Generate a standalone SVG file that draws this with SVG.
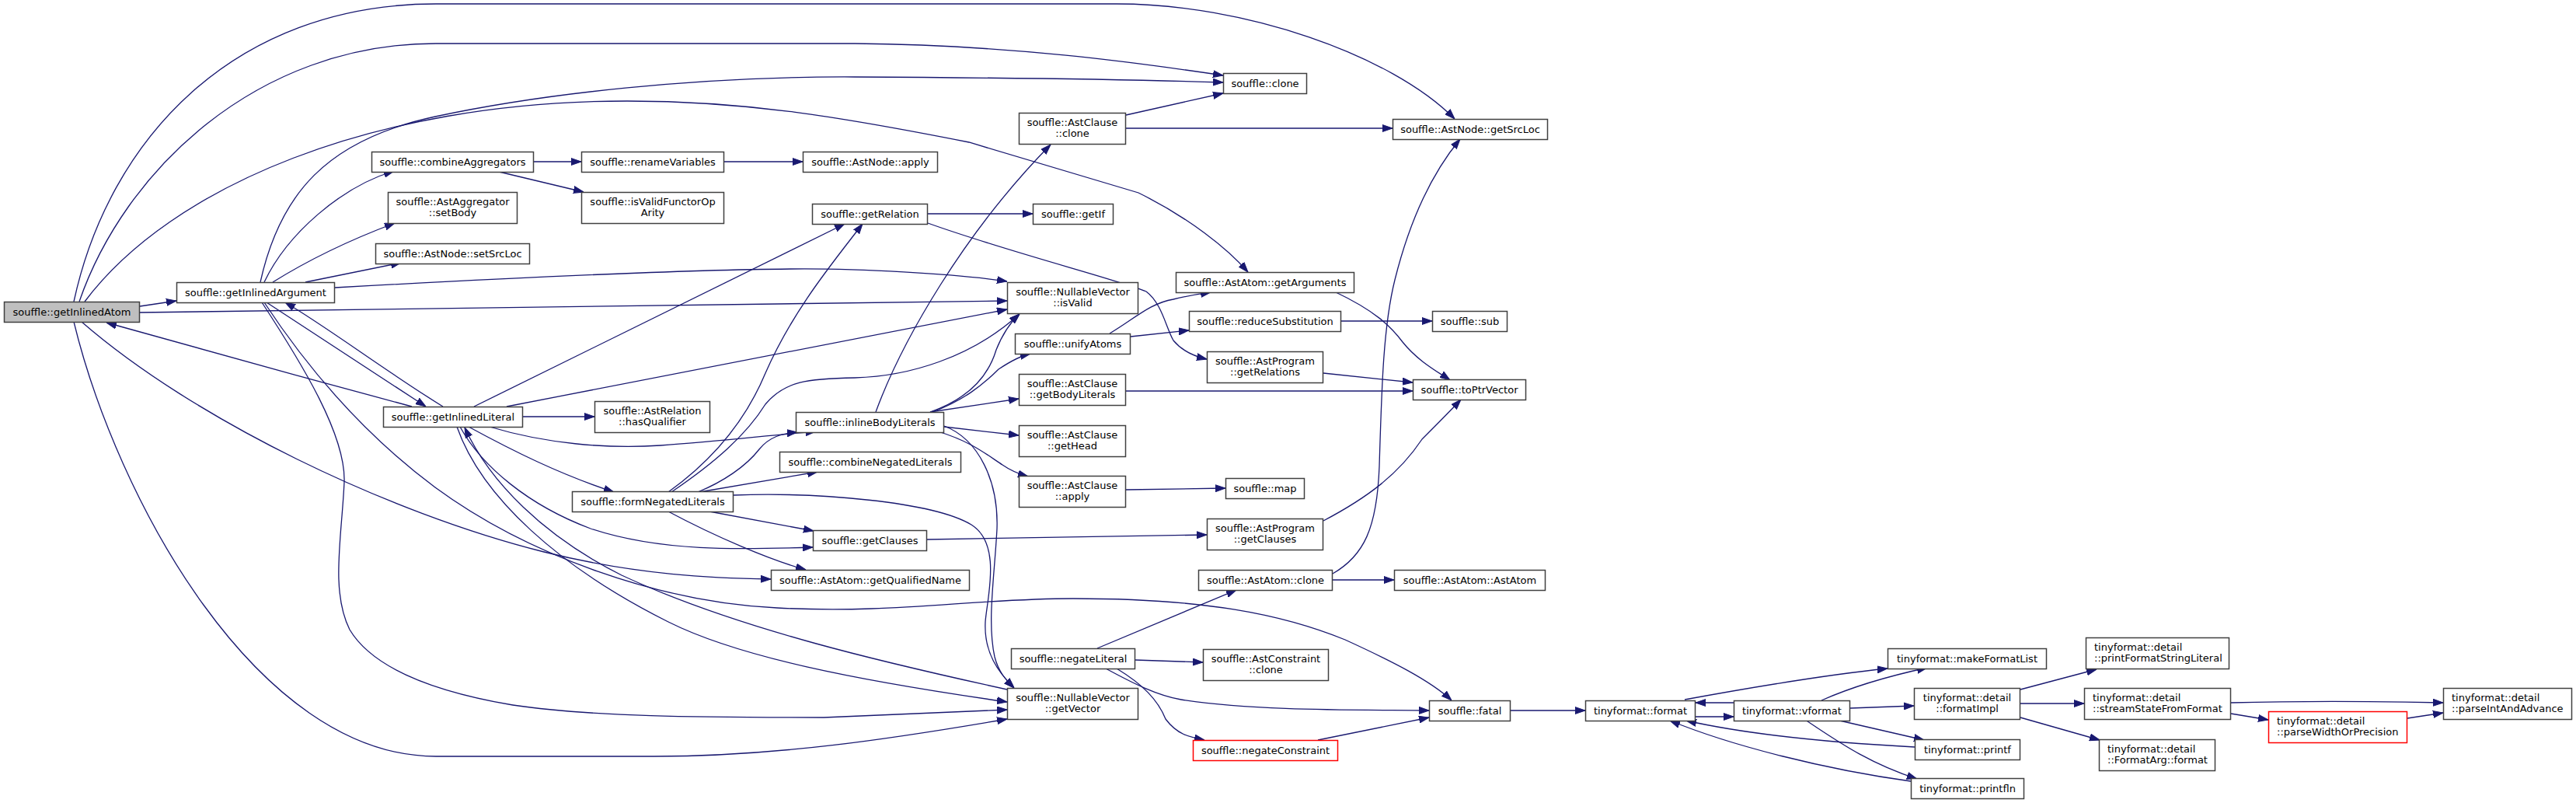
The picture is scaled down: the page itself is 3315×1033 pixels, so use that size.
<svg xmlns="http://www.w3.org/2000/svg" width="3315" height="1033" viewBox="0 0 3315 1033">
<defs>
<marker id="ah" viewBox="0 0 13 10" refX="13" refY="5" markerWidth="13" markerHeight="10" markerUnits="userSpaceOnUse" orient="auto">
<path d="M0,0.5 L13,5 L0,9.5 z" fill="#191970" stroke="#191970" stroke-width="1"/>
</marker>
<style>
.n rect{fill:#ffffff;stroke:#404040;stroke-width:1.5}
.n.root rect{fill:#bfbfbf}
.n.red rect{stroke:#ff0000}
.n text{font-family:"DejaVu Sans","Noto Sans",sans-serif;font-size:13px;fill:#000000;text-anchor:middle}
.n text.l{text-anchor:start}
.e path{fill:none;stroke:#191970;stroke-width:1.3;marker-end:url(#ah)}
</style>
</defs>
<rect x="0" y="0" width="3315" height="1033" fill="#ffffff"/>
<g id="edges" class="e">
<path d="M180,394 L227,387"/>
<path d="M95,388 C140,180 300,5 561,5 L1437,5 C1600,5 1790,70 1872,153"/>
<path d="M102,388 C160,220 330,56 561,56 L1100,56 C1300,58 1460,80 1574,97"/>
<path d="M109,388 C220,240 480,130 807,130 C960,130 1080,150 1247,183 L1465,248 C1530,280 1580,320 1606,350"/>
<path d="M180,402 L1296,387"/>
<path d="M95,414 C150,640 330,973 561,973 L842,973 C1000,973 1150,950 1296,925"/>
<path d="M105,414 C250,540 500,660 700,710 C820,740 920,744 992,745"/>
<path d="M530,523 C400,488 260,450 137,415"/>
<path d="M340,363 C370,300 440,240 507,220"/>
<path d="M351,363 Q420,320 508,287"/>
<path d="M393,363 L516,338"/>
<path d="M335,363 C360,250 420,180 560,150 C700,120 900,98 1100,99 C1300,100 1450,102 1574,106"/>
<path d="M431,370 C700,355 900,347 1017,346 C1100,345 1230,352 1296,362"/>
<path d="M337,389 C390,470 445,560 443,620 C440,690 425,760 450,810 C480,860 560,890 660,907 C760,922 900,923 1060,923 L1296,913"/>
<path d="M340,389 C400,480 470,560 560,627 C680,715 850,775 1000,782 C1150,790 1250,770 1381,770 C1550,770 1650,790 1731,823 C1790,850 1840,875 1868,901"/>
<path d="M343,389 L548,523"/>
<path d="M570,523 C500,480 420,420 367,389"/>
<path d="M673,536 L765,536"/>
<path d="M610,523 L1087,288"/>
<path d="M652,523 L1296,398"/>
<path d="M630,549 C700,570 780,578 850,573 C920,568 990,560 1050,555"/>
<path d="M603,549 C660,580 720,610 790,633"/>
<path d="M592,549 C620,600 680,650 760,680 C850,710 950,707 1046,704"/>
<path d="M588,549 C620,640 720,730 860,800 C950,845 1100,875 1296,903"/>
<path d="M1296,887 C1150,855 950,810 800,740 C700,690 630,620 598,550"/>
<path d="M860,633 C920,590 960,540 985,480 C1020,400 1070,340 1110,288"/>
<path d="M864,633 C920,595 960,560 985,520 C1010,490 1040,487 1100,486 C1170,484 1250,460 1312,404"/>
<path d="M898,633 C930,620 960,600 977,578 C990,562 1005,558 1026,556"/>
<path d="M900,633 L1052,607"/>
<path d="M944,637 C1050,633 1200,645 1250,675 C1290,700 1270,770 1268,800 C1266,840 1285,865 1305,885"/>
<path d="M913,658 L1047,683"/>
<path d="M860,658 C920,690 990,720 1037,733"/>
<path d="M1127,530 C1160,440 1240,300 1352,186"/>
<path d="M1197,530 C1240,515 1270,490 1282,450 C1290,430 1300,415 1312,404"/>
<path d="M1200,530 C1240,515 1265,495 1285,475 C1300,465 1312,458 1326,455"/>
<path d="M1197,530 L1311,513"/>
<path d="M1215,549 L1311,560"/>
<path d="M1207,555 C1250,568 1270,585 1290,598 C1300,605 1312,610 1323,613"/>
<path d="M1215,548 C1260,565 1285,620 1283,680 C1280,740 1270,800 1280,845 C1285,865 1295,875 1305,885"/>
<path d="M1194,275 L1329,275"/>
<path d="M1194,287 C1300,325 1440,360 1475,375 C1495,390 1500,420 1510,438 C1520,450 1535,458 1553,462"/>
<path d="M1449,148 L1574,120"/>
<path d="M1449,165 L1792,165"/>
<path d="M1717,375 C1770,400 1790,420 1805,440 C1825,465 1850,478 1866,489"/>
<path d="M1428,429 C1460,410 1480,390 1510,385 C1530,380 1545,378 1558,376"/>
<path d="M1455,433 L1530,425"/>
<path d="M1726,413 L1843,413"/>
<path d="M1703,480 L1818,492"/>
<path d="M1449,503 L1818,503"/>
<path d="M1703,670 C1760,640 1800,610 1830,565 C1850,545 1865,530 1880,514"/>
<path d="M1449,630 L1577,628"/>
<path d="M1193,694 L1553,688"/>
<path d="M1715,746 L1794,746"/>
<path d="M1715,738 C1755,715 1772,680 1775,600 C1778,500 1780,420 1795,360 C1815,280 1845,220 1879,179"/>
<path d="M1412,834 L1591,759"/>
<path d="M1461,849 L1548,852"/>
<path d="M1423,860 C1460,880 1490,895 1520,900 C1620,915 1740,913 1839,914"/>
<path d="M1437,860 C1470,880 1490,900 1500,925 C1515,945 1530,948 1550,952"/>
<path d="M1696,952 L1839,923"/>
<path d="M1944,914 L2040,914"/>
<path d="M687,208 L748,208"/>
<path d="M638,220 L751,247"/>
<path d="M932,208 L1033,208"/>
<path d="M2182,922 L2231,922"/>
<path d="M2231,904 L2182,904"/>
<path d="M2168,900 C2250,885 2350,868 2429,860"/>
<path d="M2344,901 C2380,885 2420,872 2480,859"/>
<path d="M2381,911 L2463,908"/>
<path d="M2363,926 L2476,952"/>
<path d="M2323,926 C2360,950 2400,980 2467,1002"/>
<path d="M2464,961 C2350,955 2250,945 2170,927"/>
<path d="M2459,1005 C2350,990 2230,960 2149,927"/>
<path d="M2600,887 L2698,861"/>
<path d="M2600,905 L2682,905"/>
<path d="M2600,923 L2702,952"/>
<path d="M2871,904 C2950,902 3050,902 3144,904"/>
<path d="M2871,918 L2919,926"/>
<path d="M3098,924 L3144,917"/>
</g>
<g id="n1" class="n root"><rect x="5.5" y="388.5" width="174" height="26"/><text x="92.5" y="405.5">souffle::getInlinedAtom</text></g>
<g id="n2" class="n"><rect x="227.5" y="363.5" width="203" height="26"/><text x="329" y="380.5">souffle::getInlinedArgument</text></g>
<g id="n3" class="n"><rect x="478.5" y="195.5" width="208" height="26"/><text x="582.5" y="212.5">souffle::combineAggregators</text></g>
<g id="n4" class="n"><rect x="748.5" y="195.5" width="183" height="26"/><text x="840" y="212.5">souffle::renameVariables</text></g>
<g id="n5" class="n"><rect x="1033.5" y="195.5" width="173" height="26"/><text x="1120" y="212.5">souffle::AstNode::apply</text></g>
<g id="n6" class="n"><rect x="499.5" y="247.5" width="166" height="40"/><text x="582.5" y="264">souffle::AstAggregator</text><text x="582.5" y="278">::setBody</text></g>
<g id="n7" class="n"><rect x="748.5" y="247.5" width="183" height="40"/><text x="840" y="264">souffle::isValidFunctorOp</text><text x="840" y="278">Arity</text></g>
<g id="n8" class="n"><rect x="483.5" y="313.5" width="198" height="26"/><text x="582.5" y="330.5">souffle::AstNode::setSrcLoc</text></g>
<g id="n9" class="n"><rect x="493.5" y="523.5" width="179" height="26"/><text x="583" y="540.5">souffle::getInlinedLiteral</text></g>
<g id="n10" class="n"><rect x="765.5" y="516.5" width="148" height="40"/><text x="839.5" y="533">souffle::AstRelation</text><text x="839.5" y="547">::hasQualifier</text></g>
<g id="n11" class="n"><rect x="736.5" y="632.5" width="207" height="26"/><text x="840" y="649.5">souffle::formNegatedLiterals</text></g>
<g id="n12" class="n"><rect x="1045.5" y="262.5" width="148" height="26"/><text x="1119.5" y="279.5">souffle::getRelation</text></g>
<g id="n13" class="n"><rect x="1329.5" y="262.5" width="103" height="26"/><text x="1381" y="279.5">souffle::getIf</text></g>
<g id="n14" class="n"><rect x="1574.5" y="94.5" width="107" height="26"/><text x="1628" y="111.5">souffle::clone</text></g>
<g id="n15" class="n"><rect x="1311.5" y="145.5" width="137" height="40"/><text x="1380" y="162">souffle::AstClause</text><text x="1380" y="176">::clone</text></g>
<g id="n16" class="n"><rect x="1792.5" y="153.5" width="199" height="26"/><text x="1892" y="170.5">souffle::AstNode::getSrcLoc</text></g>
<g id="n17" class="n"><rect x="1296.5" y="363.5" width="168" height="40"/><text x="1380.5" y="380">souffle::NullableVector</text><text x="1380.5" y="394">::isValid</text></g>
<g id="n18" class="n"><rect x="1513.5" y="350.5" width="229" height="26"/><text x="1628" y="367.5">souffle::AstAtom::getArguments</text></g>
<g id="n19" class="n"><rect x="1530.5" y="400.5" width="195" height="26"/><text x="1628" y="417.5">souffle::reduceSubstitution</text></g>
<g id="n20" class="n"><rect x="1843.5" y="400.5" width="96" height="26"/><text x="1891.5" y="417.5">souffle::sub</text></g>
<g id="n21" class="n"><rect x="1306.5" y="429.5" width="148" height="26"/><text x="1380.5" y="446.5">souffle::unifyAtoms</text></g>
<g id="n22" class="n"><rect x="1553.5" y="452.5" width="149" height="40"/><text x="1628" y="469">souffle::AstProgram</text><text x="1628" y="483">::getRelations</text></g>
<g id="n23" class="n"><rect x="1818.5" y="488.5" width="145" height="26"/><text x="1891" y="505.5">souffle::toPtrVector</text></g>
<g id="n24" class="n"><rect x="1311.5" y="481.5" width="137" height="40"/><text x="1380" y="498">souffle::AstClause</text><text x="1380" y="512">::getBodyLiterals</text></g>
<g id="n25" class="n"><rect x="1024.5" y="530.5" width="190" height="26"/><text x="1119.5" y="547.5">souffle::inlineBodyLiterals</text></g>
<g id="n26" class="n"><rect x="1311.5" y="547.5" width="137" height="40"/><text x="1380" y="564">souffle::AstClause</text><text x="1380" y="578">::getHead</text></g>
<g id="n27" class="n"><rect x="1003.5" y="581.5" width="233" height="26"/><text x="1120" y="598.5">souffle::combineNegatedLiterals</text></g>
<g id="n28" class="n"><rect x="1311.5" y="612.5" width="137" height="40"/><text x="1380" y="629">souffle::AstClause</text><text x="1380" y="643">::apply</text></g>
<g id="n29" class="n"><rect x="1577.5" y="615.5" width="101" height="26"/><text x="1628" y="632.5">souffle::map</text></g>
<g id="n30" class="n"><rect x="1553.5" y="667.5" width="149" height="40"/><text x="1628" y="684">souffle::AstProgram</text><text x="1628" y="698">::getClauses</text></g>
<g id="n31" class="n"><rect x="1046.5" y="682.5" width="146" height="26"/><text x="1119.5" y="699.5">souffle::getClauses</text></g>
<g id="n32" class="n"><rect x="992.5" y="733.5" width="255" height="26"/><text x="1120" y="750.5">souffle::AstAtom::getQualifiedName</text></g>
<g id="n33" class="n"><rect x="1542.5" y="733.5" width="172" height="26"/><text x="1628.5" y="750.5">souffle::AstAtom::clone</text></g>
<g id="n34" class="n"><rect x="1794.5" y="733.5" width="194" height="26"/><text x="1891.5" y="750.5">souffle::AstAtom::AstAtom</text></g>
<g id="n35" class="n"><rect x="1301.5" y="834.5" width="159" height="26"/><text x="1381" y="851.5">souffle::negateLiteral</text></g>
<g id="n36" class="n"><rect x="1548.5" y="835.5" width="161" height="40"/><text x="1629" y="852">souffle::AstConstraint</text><text x="1629" y="866">::clone</text></g>
<g id="n37" class="n"><rect x="1296.5" y="885.5" width="168" height="40"/><text x="1380.5" y="902">souffle::NullableVector</text><text x="1380.5" y="916">::getVector</text></g>
<g id="n38" class="n"><rect x="1839.5" y="901.5" width="104" height="26"/><text x="1891.5" y="918.5">souffle::fatal</text></g>
<g id="n39" class="n red"><rect x="1535.5" y="952.5" width="186" height="26"/><text x="1628.5" y="969.5">souffle::negateConstraint</text></g>
<g id="n40" class="n"><rect x="2040.5" y="901.5" width="141" height="26"/><text x="2111" y="918.5">tinyformat::format</text></g>
<g id="n41" class="n"><rect x="2231.5" y="901.5" width="149" height="26"/><text x="2306" y="918.5">tinyformat::vformat</text></g>
<g id="n42" class="n"><rect x="2429.5" y="834.5" width="204" height="26"/><text x="2531.5" y="851.5">tinyformat::makeFormatList</text></g>
<g id="n43" class="n"><rect x="2684.5" y="820.5" width="184" height="40"/><text class="l" x="2695" y="837">tinyformat::detail</text><text class="l" x="2695" y="851">::printFormatStringLiteral</text></g>
<g id="n44" class="n"><rect x="2463.5" y="885.5" width="136" height="40"/><text x="2531.5" y="902">tinyformat::detail</text><text x="2531.5" y="916">::formatImpl</text></g>
<g id="n45" class="n"><rect x="2682.5" y="885.5" width="188" height="40"/><text class="l" x="2693" y="902">tinyformat::detail</text><text class="l" x="2693" y="916">::streamStateFromFormat</text></g>
<g id="n46" class="n"><rect x="3144.5" y="885.5" width="165" height="40"/><text class="l" x="3155" y="902">tinyformat::detail</text><text class="l" x="3155" y="916">::parseIntAndAdvance</text></g>
<g id="n47" class="n red"><rect x="2919.5" y="915.5" width="178" height="40"/><text class="l" x="2930" y="932">tinyformat::detail</text><text class="l" x="2930" y="946">::parseWidthOrPrecision</text></g>
<g id="n48" class="n"><rect x="2464.5" y="951.5" width="135" height="26"/><text x="2532" y="968.5">tinyformat::printf</text></g>
<g id="n49" class="n"><rect x="2701.5" y="951.5" width="149" height="40"/><text class="l" x="2712" y="968">tinyformat::detail</text><text class="l" x="2712" y="982">::FormatArg::format</text></g>
<g id="n50" class="n"><rect x="2459.5" y="1001.5" width="145" height="26"/><text x="2532" y="1018.5">tinyformat::printfln</text></g>
</svg>
